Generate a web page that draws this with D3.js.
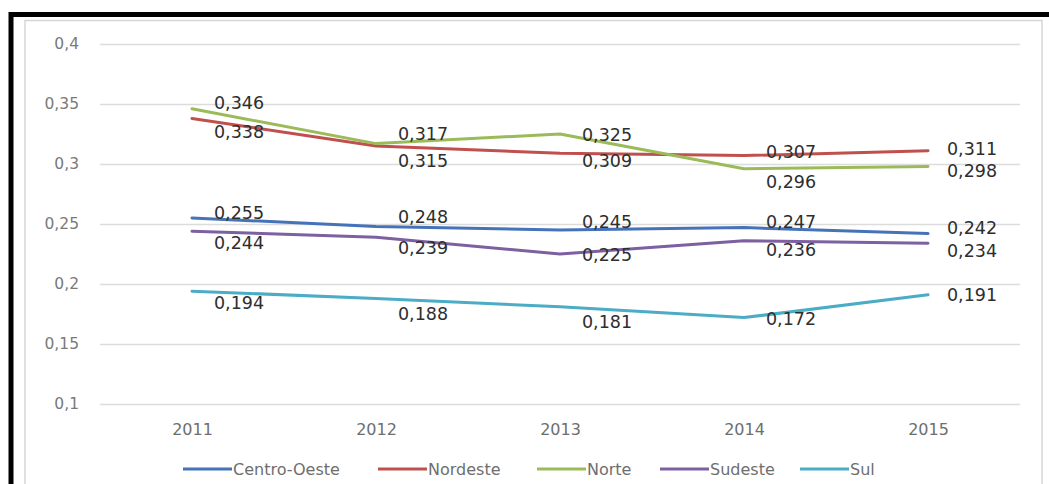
<!DOCTYPE html>
<html>
<head>
<meta charset="utf-8">
<script src="https://cdn.jsdelivr.net/npm/d3@7/dist/d3.min.js"></script>
<style>
  html, body { margin: 0; padding: 0; background: #fff; }
  svg { display: block; }
  text { font-family: "DejaVu Sans", sans-serif; }
</style>
</head>
<body>
<svg id="chart" width="1049" height="484"></svg>
<script>
// Years on the horizontal axis
const years = ["2011", "2012", "2013", "2014", "2015"];

// One series per region
const regions = ["Centro-Oeste", "Nordeste", "Norte", "Sudeste", "Sul"];
const centroOeste = [0.255, 0.248, 0.245, 0.247, 0.242];
const nordeste    = [0.338, 0.315, 0.309, 0.307, 0.311];
const norte       = [0.346, 0.317, 0.325, 0.296, 0.298];
const sudeste     = [0.244, 0.239, 0.225, 0.236, 0.234];
const sul         = [0.194, 0.188, 0.181, 0.172, 0.191];
const seriesValues = [centroOeste, nordeste, norte, sudeste, sul];

// Y-axis ticks
const yTicks = [0.1, 0.15, 0.2, 0.25, 0.3, 0.35, 0.4];

// Styling and label placement (vertical shift of each value label, in px)
const colors = ["#4673b8", "#c0504d", "#9bbb59", "#7d60a0", "#4bacc6"];
const labelShift = [
  [-5, -10, -8, -6, -6],
  [13, 15, 7, -4, -2],
  [-6, -10, 1, 13, 4],
  [11, 10, 1, 9, 7],
  [11, 15, 15, 1, 0]
];
const legendX = [183, 378, 537, 660, 800];

const fmt = v => String(v).replace(".", ",");

const svg = d3.select("#chart");

// Outer black frame and the chart's light border
svg.append("rect")
  .attr("x", 11).attr("y", 14.5).attr("width", 1060).attr("height", 500)
  .attr("fill", "none").attr("stroke", "#000").attr("stroke-width", 5);
svg.append("rect")
  .attr("x", 25).attr("y", 20.5).attr("width", 1017).attr("height", 480)
  .attr("fill", "#fff").attr("stroke", "#d6d6d6").attr("stroke-width", 1.5);

const x = d3.scalePoint().domain(years).range([100, 1020]).padding(0.5);
const y = d3.scaleLinear().domain([0.1, 0.4]).range([404, 44]);

// Horizontal gridlines with tick labels
const yAxis = d3.axisLeft(y).tickValues(yTicks).tickSize(-920).tickFormat(fmt).tickPadding(21);
const gy = svg.append("g").attr("transform", "translate(100,0)").call(yAxis);
gy.select(".domain").remove();
gy.selectAll(".tick line").attr("stroke", "#dcdcdc").attr("stroke-width", 1.3);
gy.selectAll(".tick text")
  .attr("fill", "#7a7a7a").attr("font-size", 15.5);

// Year labels
const xAxis = d3.axisBottom(x).tickSize(0).tickPadding(0);
const gx = svg.append("g").attr("transform", "translate(0,430)").call(xAxis);
gx.select(".domain").remove();
gx.selectAll(".tick text")
  .attr("fill", "#6e6e6e").attr("font-size", 16).attr("dy", "0.32em");

// Lines
const line = d3.line().x((d, i) => x(years[i])).y(d => y(d));
svg.append("g").selectAll("path")
  .data(seriesValues)
  .join("path")
  .attr("d", line)
  .attr("fill", "none")
  .attr("stroke", (d, i) => colors[i])
  .attr("stroke-width", 3)
  .attr("stroke-linejoin", "round")
  .attr("stroke-linecap", "round");

// Value labels
seriesValues.forEach((vals, s) => {
  svg.append("g").selectAll("text")
    .data(vals)
    .join("text")
    .attr("x", (d, i) => x(years[i]) + (i === 4 ? 44 : 47))
    .attr("y", (d, i) => y(d) + labelShift[s][i])
    .attr("text-anchor", "middle")
    .attr("dy", "0.36em")
    .attr("font-size", 17.5)
    .attr("fill", "#2e2e2e")
    .text(d => fmt(d));
});

// Legend
const leg = svg.append("g").selectAll("g")
  .data(regions)
  .join("g")
  .attr("transform", (d, i) => `translate(${legendX[i]},469)`);
leg.append("line")
  .attr("x1", 0).attr("x2", 49)
  .attr("stroke", (d, i) => colors[i]).attr("stroke-width", 3);
leg.append("text")
  .attr("x", 50).attr("dy", "0.35em")
  .attr("font-size", 16)
  .attr("fill", "#6e6e6e")
  .text(d => d);
</script>
</body>
</html>
